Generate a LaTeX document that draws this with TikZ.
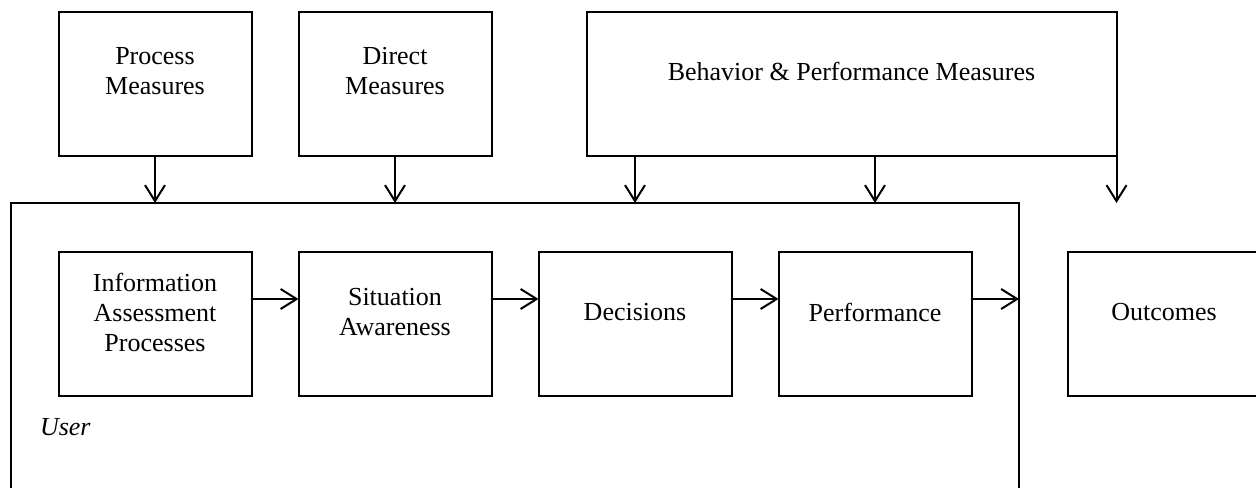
\documentclass[tikz,border=0pt]{standalone}
\usepackage{fontspec}
\setmainfont{Liberation Serif}
\usetikzlibrary{
  arrows.meta,
  calc,
  positioning,
}

\begin{document}
\begin{tikzpicture}[
    x=0.5pt,
    y=-0.5pt,
    node distance=23.5pt,
    box/.style={
      draw, line width=1pt, minimum width=96.5pt, minimum height=72pt,
      inner sep=0pt, outer sep=0pt,
    },
    txt/.style={align=center, font=\fontsize{13}{15}\selectfont, yshift=6pt},
    arr/.style={line width=1pt, -{Straight Barb[length=8pt,width=10pt]}},]
  \useasboundingbox (0,0) rectangle (1256,487);
  %% measures
  \node[box](Proc) at (155,83.5) {};
  \node[box,right=of Proc](Dir) {};
  \node[box,right=47.5pt of Dir, minimum width=265pt](BPM) {};
  \node[txt](ProcT) at (Proc) {Process\\Measures};
  \node[txt](DirT) at (Dir) {Direct\\Measures};
  \node[txt](BPMT) at (BPM) {Behavior \& Performance Measures};
  %% user
  \node[draw, line width=1pt, minimum width=504pt, minimum height=150pt,
  inner sep=0pt, outer sep=0pt, anchor=north west]
  (User) at (11,203) {};
  \node[anchor=west, font=\fontsize{13}{15}\selectfont\itshape]
  (UserT) at (33,427) {User};
  %%
  \node[box](Info) at (155,324) {};
  \node[box,right=of Info](Sit) {};
  \node[box,right=of Sit](Dec) {};
  \node[box,right=of Dec](Perf) {};
  \node[box,right=48pt of Perf](Out) {};
  \node[txt](InfoT) at (Info) {Information\\Assessment\\Processes};
  \node[txt](SitT) at (Sit) {Situation\\Awareness};
  \node[txt](DecT) at (Dec) {Decisions};
  \node[txt](PerfT) at (Perf) {Performance};
  \node[txt](OutT) at (Out) {Outcomes};
  %% flow
  \foreach \a/\b in {Info/Sit, Sit/Dec, Dec/Perf}
    \draw[arr]([yshift=12.5pt]\a.east) -- ([yshift=12.5pt]\b.west);
  \draw[arr]([yshift=12.5pt]Perf.east) -- ([yshift=12.5pt]Perf.east -| User.east);
  %% measures down
  \draw[arr](Proc.south) -- (Proc.south |- User.north);
  \draw[arr](Dir.south) -- (Dir.south |- User.north);
  \draw[arr](BPM.south -| Dec) -- (Dec |- User.north);
  \draw[arr](BPM.south -| Perf) -- (Perf |- User.north);
  \coordinate (OutIn) at (BPM.south east |- User.north);
  \draw[arr](BPM.south east) -- (OutIn);
\end{tikzpicture}
\end{document}
